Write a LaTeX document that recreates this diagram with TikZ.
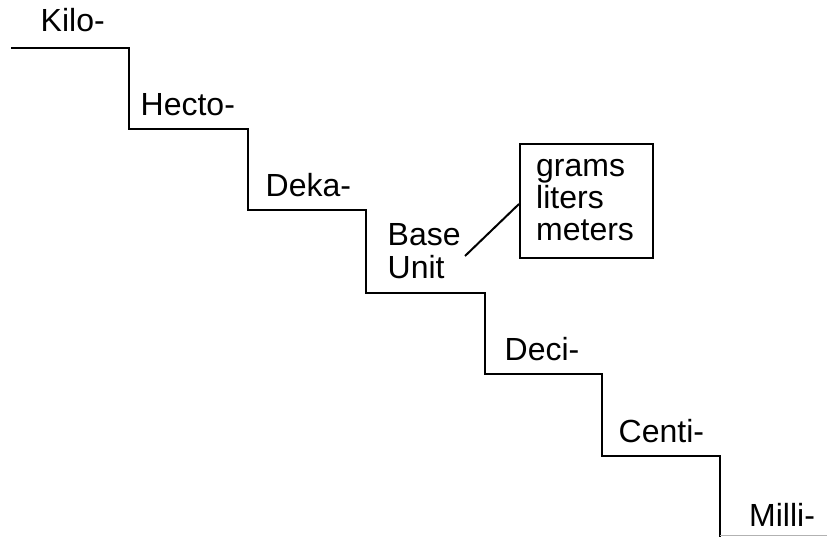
\documentclass[tikz,border=0pt]{standalone}
\usepackage{fontspec}
\setmainfont{Liberation Sans}
\begin{document}
\begin{tikzpicture}[x=1pt,y=-1pt,
  lbl/.style={anchor=base west,inner sep=0pt,font=\fontsize{32}{34}\selectfont},
  stair/.style={line width=2pt,line join=miter,black},
  unitbox/.style={draw,line width=2pt,anchor=north west,minimum width=133pt,minimum height=114.6pt,inner sep=0pt}]
\useasboundingbox (0,0) rectangle (827,536);
% staircase
\draw[stair] (11,47.7) -| (129,129) -| (248,210) -| (366,292.5) -| (485,374.2) -| (602.3,455.8) -| (720,537);
\draw[line width=1.2pt,black!30] (720,535.6) -- (827,535.6);
% labels
\node[lbl] (kilo) at (40.5,31.5) {Kilo-};
\node[lbl] (hecto) at (140.5,115) {Hecto-};
\node[lbl] (deka) at (265.5,196.7) {Deka-};
\node[lbl] (base) at (387.5,245.7) {Base};
\node[lbl] (unit) at (387.5,278.3) {Unit};
\node[lbl] (deci) at (504.5,360) {Deci-};
\node[lbl] (centi) at (618.5,442) {Centi-};
\node[lbl] (milli) at (749,526) {Milli-};
% box
\node[unitbox] (box) at (519,142.7) {};
\node[lbl] (grams) at (536,176) {grams};
\node[lbl] (liters) at (536,208) {liters};
\node[lbl] (meters) at (536,240) {meters};
\coordinate (c1) at (465,256);
\draw[line width=2pt] (c1) -- ([yshift=-3pt]box.west);
\end{tikzpicture}
\end{document}
